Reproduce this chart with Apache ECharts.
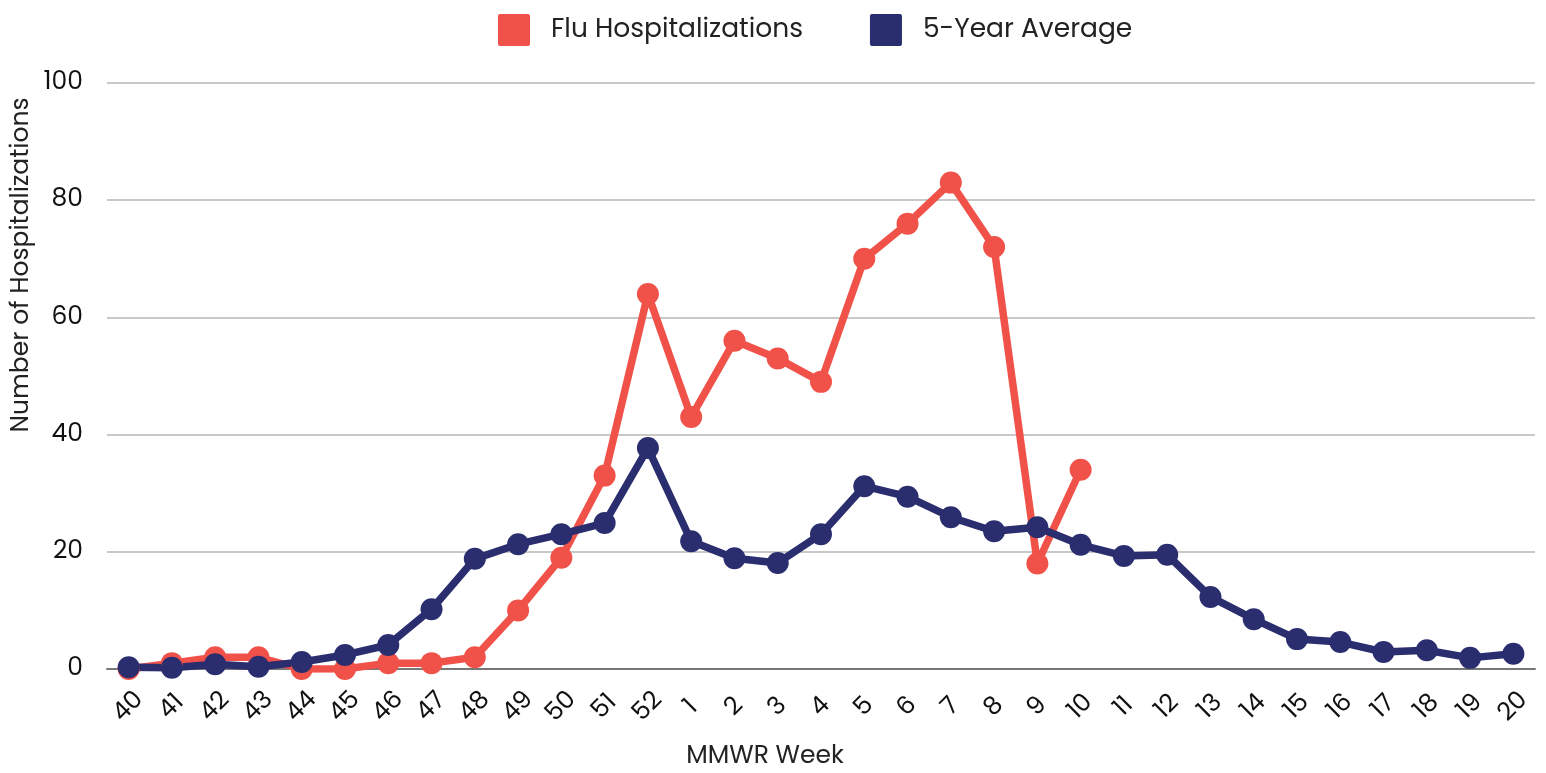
<!DOCTYPE html>
<html><head><meta charset="utf-8">
<script src="https://cdn.jsdelivr.net/npm/echarts@6/dist/echarts.min.js"></script>
<style>html,body{margin:0;padding:0;background:#fff}#c{width:1546px;height:773px}</style>
</head><body><div id="c"></div>
<script>
var weeks = ['40','41','42','43','44','45','46','47','48','49','50','51','52','1','2','3','4','5','6','7','8','9','10','11','12','13','14','15','16','17','18','19','20'];
var fluHosp = [0,1,2,2,0,0,1,1,2,10,19,33,64,43,56,53,49,70,76,83,72,18,34];
var fiveYearAvg = [0.3,0.2,0.8,0.4,1.2,2.4,4.1,10.2,18.8,21.3,23.0,24.9,37.7,21.8,18.9,18.1,23.0,31.2,29.4,25.9,23.5,24.2,21.2,19.3,19.5,12.3,8.5,5.1,4.6,2.9,3.2,1.9,2.6];
var yTicks = [0,20,40,60,80,100];
var font = 'Poppins, Inter, "Noto Sans", sans-serif';
var chart = echarts.init(document.getElementById('c'));
chart.setOption({
  animation:false,
  textStyle:{fontFamily:font},
  legend:{top:9,left:493,itemWidth:32,itemHeight:32,itemGap:67,
    icon:'path://M2,0 L30,0 Q32,0 32,2 L32,30 Q32,32 30,32 L2,32 Q0,32 0,30 L0,2 Q0,0 2,0 Z',
    textStyle:{fontSize:26.5,color:'#222',fontFamily:font,padding:[0,0,0,16]},
    data:['Flu Hospitalizations','5-Year Average']},
  grid:{left:107,right:11,top:83,bottom:104,containLabel:false},
  graphic:[
    {type:'text',x:765,y:757,style:{text:'MMWR Week',fontSize:25,fill:'#222',fontFamily:font,align:'center',verticalAlign:'middle'}},
    {type:'text',x:22,y:265,rotation:Math.PI/2,style:{text:'Number of Hospitalizations',fontSize:25,fill:'#222',fontFamily:font,align:'center',verticalAlign:'middle'}}
  ],
  xAxis:{type:'category',data:weeks,boundaryGap:true,
    axisLine:{lineStyle:{color:'#777',width:2}},axisTick:{show:false},
    axisLabel:{rotate:45,fontSize:25,color:'#111',interval:0,margin:38,align:'center',verticalAlign:'middle',fontFamily:font}},
  yAxis:{type:'value',min:yTicks[0],max:yTicks[yTicks.length-1],interval:20,
    axisLine:{show:false},axisTick:{show:false},
    axisLabel:{fontSize:25,color:'#111',margin:24,fontFamily:font},
    splitLine:{lineStyle:{color:'#c8c8c8',width:2}}},
  series:[
    {name:'Flu Hospitalizations',type:'line',data:fluHosp,color:'#F0524A',symbol:'circle',symbolSize:22,
      lineStyle:{width:7.5,color:'#F0524A'},itemStyle:{color:'#F0524A'}},
    {name:'5-Year Average',type:'line',data:fiveYearAvg,color:'#2A2D6E',symbol:'circle',symbolSize:22,
      lineStyle:{width:7.5,color:'#2A2D6E'},itemStyle:{color:'#2A2D6E'}}
  ]
});
</script></body></html>
